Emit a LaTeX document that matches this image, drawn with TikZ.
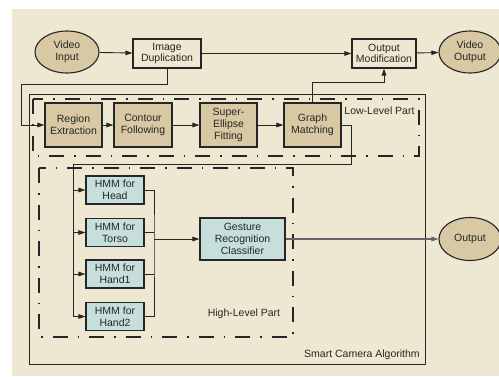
\documentclass[tikz,border=0pt]{standalone}
\usepackage{fontspec}
\setmainfont{Liberation Sans}
\usetikzlibrary{arrows.meta,shapes.geometric,calc}
\definecolor{bgc}{HTML}{EEE7D1}
\definecolor{tanc}{HTML}{D8C9A4}
\definecolor{tealc}{HTML}{C6DFDA}
\definecolor{linec}{HTML}{262626}
\begin{document}
\begin{tikzpicture}[x=1pt,y=-1pt,
  every node/.style={font=\fontsize{10.5}{11.7}\selectfont, text=linec, align=center, inner sep=0pt},
  tanbox/.style={draw=linec, line width=1.1pt, fill=tanc, minimum width=57pt, minimum height=44pt},
  plainbox/.style={draw=linec, line width=1.1pt, fill=bgc},
  hmmbox/.style={draw=linec, line width=1.1pt, fill=tealc, minimum width=58pt, minimum height=28pt},
  oval/.style={ellipse, draw=linec, line width=1.1pt, fill=tanc},
  conn/.style={draw=linec, line width=0.9pt},
  arr/.style={conn, -{Triangle[length=7pt,width=4.5pt]}},
  dashdot/.style={draw=linec, line width=1.8pt, dash pattern=on 15pt off 10pt on 1.5pt off 10pt},
  lbl/.style={font=\fontsize{10.5}{11.7}\selectfont}]
\useasboundingbox (0,0) rectangle (499,376);
\fill[bgc] (12,9) rectangle (499,376);
% containers
\draw[linec, line width=0.9pt] (29,94) rectangle (425,364);
\draw[dashdot] (33,99) rectangle (419,156);
\draw[dashdot] (39,168) rectangle (293,337);
% nodes
\node[oval, minimum width=64pt, minimum height=42pt] (vi) at (67,52) {Video\\Input};
\node[plainbox, minimum width=68pt, minimum height=29pt] (dup) at (167,53.5) {Image\\Duplication};
\node[plainbox, minimum width=64pt, minimum height=29pt] (om) at (384,53.5) {Output\\Modification};
\node[oval, minimum width=62pt, minimum height=42pt] (vo) at (470,52) {Video\\Output};
\node[tanbox] (re) at (73.5,125) {Region\\Extraction};
\node[tanbox, minimum width=58pt] (cf) at (143,125) {Contour\\Following};
\node[tanbox] (se) at (228.5,125) {Super-\\Ellipse\\Fitting};
\node[tanbox] (gm) at (312.5,125) {Graph\\Matching};
\node[hmmbox] (h1) at (115,190) {HMM for\\Head};
\node[hmmbox] (h2) at (115,232.5) {HMM for\\Torso};
\node[hmmbox] (h3) at (115,274) {HMM for\\Hand1};
\node[hmmbox] (h4) at (115,316.5) {HMM for\\Hand2};
\node[draw=linec, line width=1.1pt, fill=tealc, minimum width=85pt, minimum height=42pt] (gr) at (242.5,239) {Gesture\\Recognition\\Classifier};
\node[oval, minimum width=62pt, minimum height=43pt] (out) at (470,239) {Output};
\node[lbl] (ll) at (379.5,111) {Low-Level Part};
\node[lbl] (hl) at (244,314) {High-Level Part};
\node[lbl] (sc) at (362,355) {Smart Camera Algorithm};
% coordinates
\coordinate (d1) at (21,84);
\coordinate (k1) at (312.5,82);
\coordinate (g1) at (351,164);
\coordinate (g2) at (73,164);
\coordinate (m1) at (154,239);
% connectors
\draw[arr] (vi) -- (dup);
\draw[arr] (dup) -- (om);
\draw[arr] (om) -- (vo);
\draw[arr] (dup.south) |- (d1) |- (re.west);
\draw[arr] (re) -- (cf);
\draw[arr] (cf) -- (se);
\draw[arr] (se) -- (gm);
\draw[arr] (gm.north) -- (k1) -| (om.south);
\draw[conn] (gm.east) -| (g1) -- (g2) |- (h4.west);
\draw[arr] (g2 |- h4.west) -- (h4.west);
\draw[arr] (g2 |- h1.west) -- (h1.west);
\draw[arr] (g2 |- h2.west) -- (h2.west);
\draw[arr] (g2 |- h3.west) -- (h3.west);
\draw[conn] (h1.east) -| (m1) |- (h4.east);
\draw[conn] (h2.east) -- (h2.east -| m1);
\draw[conn] (h3.east) -- (h3.east -| m1);
\draw[arr] (m1) -- (gr.west);
\draw[draw=gray!80!black, line width=1.1pt, -{Triangle[length=7pt,width=4.5pt]}] (gr.east) -- (out.west);
\end{tikzpicture}
\end{document}
